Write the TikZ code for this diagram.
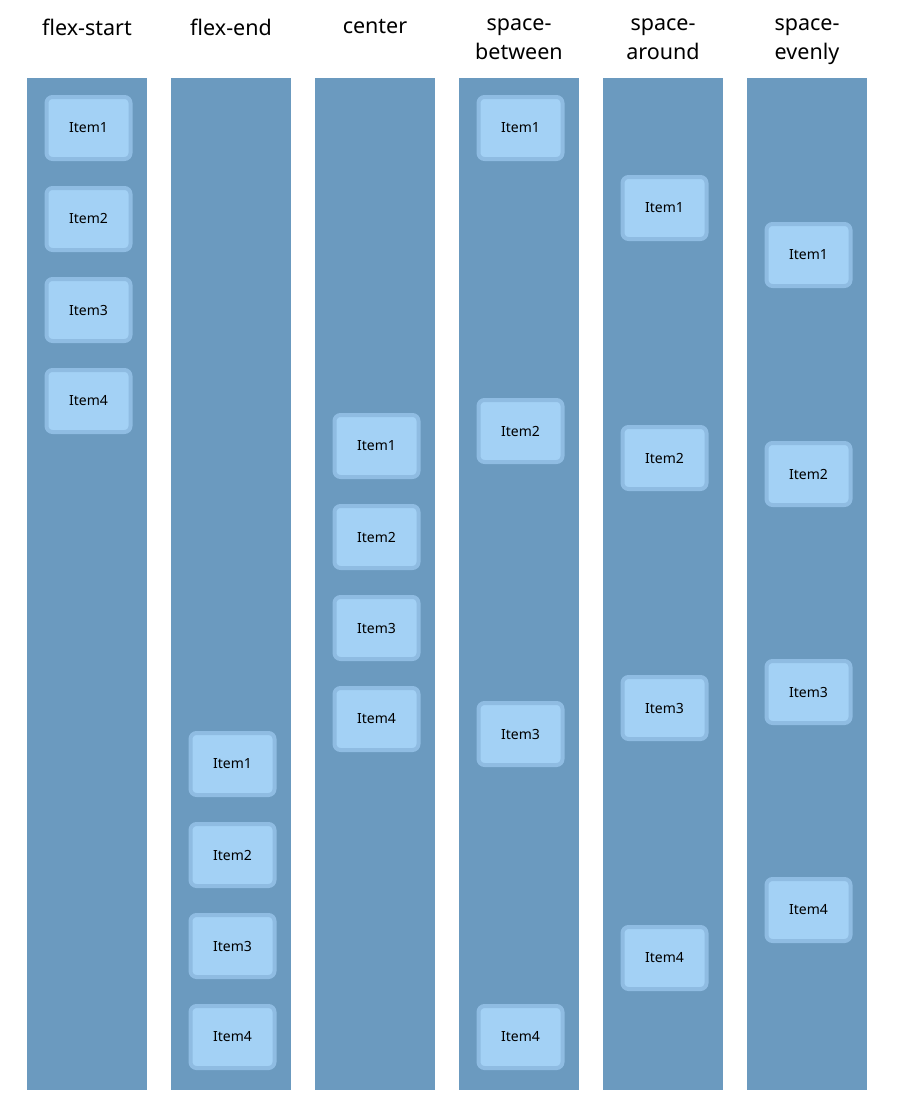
\documentclass[tikz,border=0pt]{standalone}
\usepackage{fontspec}
\setmainfont{Noto Sans}
\definecolor{boxbg}{RGB}{107,154,191}
\definecolor{itemfill}{RGB}{163,209,245}
\definecolor{itemline}{RGB}{143,188,226}
\tikzset{
  column/.style={rectangle, fill=boxbg, minimum width=120pt, minimum height=1012pt, inner sep=0pt},
  title/.style={align=center, anchor=north, inner sep=0pt, font=\fontsize{21.5}{28.5}\selectfont},
  item/.style={rectangle, rounded corners=6pt, fill=itemfill, draw=itemline, line width=4pt,
    minimum width=84pt, minimum height=62pt, inner sep=0pt, font=\fontsize{14}{16}\selectfont}
}
\begin{document}
\begin{tikzpicture}[x=1pt,y=-1pt]
\useasboundingbox (0,0) rectangle (900,1116);

% columns and titles
\foreach \i/\name/\txt in {0/start/flex-start, 1/end/flex-end, 2/center/center,
    3/between/{space-\\between}, 4/around/{space-\\around}, 5/evenly/{space-\\evenly}} {
  \node[column] (col-\name) at (87+144*\i, 584) {};
  \node[title] (title-\name) at (87+144*\i, 19) {\txt};
}

% items
\foreach \name/\ya/\yb/\yc/\yd in {start/128/219/310/401, end/764/855/946/1037,
    center/446/537/628/719, between/128/431/734/1037,
    around/208/458/708/958, evenly/255/474/692/910} {
  \node[item] (\name-1) at ([xshift=1.5pt]col-\name.center |- 0,\ya) {Item1};
  \node[item] (\name-2) at ([xshift=1.5pt]col-\name.center |- 0,\yb) {Item2};
  \node[item] (\name-3) at ([xshift=1.5pt]col-\name.center |- 0,\yc) {Item3};
  \node[item] (\name-4) at ([xshift=1.5pt]col-\name.center |- 0,\yd) {Item4};
}
\end{tikzpicture}
\end{document}
